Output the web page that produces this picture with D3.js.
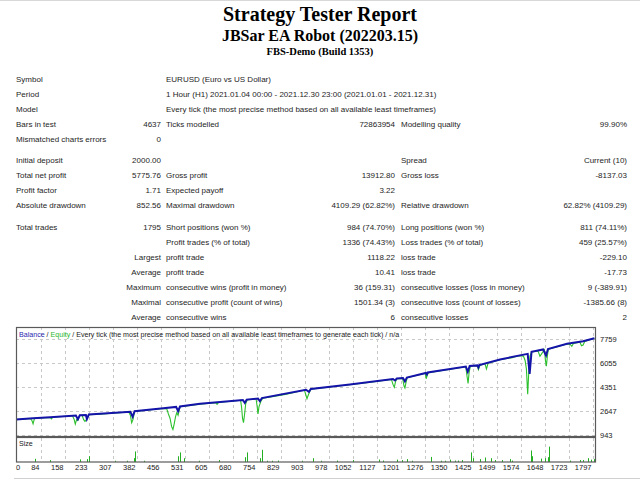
<!DOCTYPE html>
<html>
<head>
<meta charset="utf-8">
<script src="https://cdn.jsdelivr.net/npm/d3@7"></script>
<style>
  body { margin: 0; background: #fff; }
  svg { display: block; }
  .tbl { font-family: "Liberation Sans", Arial, sans-serif; font-size: 8px; fill: #1e1e1e; }
  .ttl { font-family: "Liberation Serif", "Times New Roman", serif; font-weight: bold; fill: #000; }
  .axl { font-family: "Liberation Sans", Arial, sans-serif; font-size: 7.5px; fill: #222; }
  .leg { font-family: "Liberation Sans", Arial, sans-serif; font-size: 7.1px; fill: #222; }
</style>
</head>
<body>
<div id="chart"></div>
<script>
// balance curve: [trade #, balance]
var balanceTrades = [0, 53, 106, 186, 192, 198, 217, 220, 226, 261, 355, 362, 368, 457, 497, 503, 509, 571,
  704, 710, 716, 751, 757, 763, 900, 909, 915, 1036, 1170, 1176, 1182, 1201, 1207, 1213, 1272, 1275, 1278,
  1396, 1402, 1408, 1432, 1435, 1438, 1502, 1588, 1594, 1600, 1636, 1645, 1651, 1710, 1760, 1795];
var balanceValues = [2000, 2100, 2170, 2290, 2020, 2310, 2330, 2040, 2360, 2410, 2555, 2200, 2600, 2810, 2900, 2600, 2930, 3120,
  3390, 3190, 3420, 3500, 3310, 3530, 4120, 3975, 4175, 4490, 4880, 4780, 4920, 4955, 4710, 4990, 5310, 5200, 5345,
  5770, 5395, 5810, 5850, 5700, 5880, 6270, 6670, 5250, 6820, 6980, 6550, 7015, 7390, 7570, 7776];

// equity curve
var equityTrades = [0, 45, 50, 53, 57, 60, 106, 110, 114, 175, 180, 184, 188, 192, 198, 205, 210, 214, 219, 226, 261,
  350, 355, 359, 363, 368, 457, 468, 473, 478, 483, 487, 491, 495, 499, 503, 509, 571, 620, 624, 628,
  697, 700, 703, 706, 709, 713, 718, 745, 748, 751, 754, 760, 766, 800, 840, 895, 899, 903, 908, 915,
  1036, 1100, 1165, 1170, 1174, 1178, 1182, 1200, 1204, 1207, 1211, 1214, 1270, 1273, 1277, 1280,
  1396, 1399, 1403, 1406, 1410, 1432, 1435, 1440, 1455, 1460, 1465, 1502, 1540, 1560, 1575, 1580, 1584, 1588, 1591, 1595,
  1600, 1620, 1626, 1632, 1640, 1643, 1646, 1649, 1652, 1710, 1720, 1725, 1730, 1750, 1755, 1760, 1765, 1795];
var equityValues = [2000, 2080, 1900, 1700, 2050, 2100, 2150, 2050, 2170, 2270, 2050, 1680, 2000, 1950, 2290, 2300, 2000, 1880, 2000, 2340, 2390,
  2540, 2300, 1780, 2000, 2580, 2790, 2760, 2400, 2100, 1500, 1300, 1700, 2200, 2500, 2300, 2910, 3100, 3200, 3080, 3210,
  3370, 2900, 2100, 1780, 2300, 3150, 3400, 3480, 3000, 2400, 2900, 3300, 3520, 3650, 3800, 4100, 3800, 3480, 3800, 4160,
  4470, 4650, 4860, 4500, 4300, 4700, 4900, 4930, 4400, 4250, 4700, 4970, 5290, 4900, 5200, 5330,
  5750, 5200, 4570, 5300, 5790, 5820, 5550, 5850, 5990, 5600, 6000, 6250, 6400, 6540, 6500, 6200, 5600, 3800, 5200, 6500,
  6800, 6880, 6500, 6700, 6960, 6200, 5800, 6500, 7000, 7370, 7340, 7200, 7400, 7500, 7250, 7300, 7550, 7776];

// position size bars (lots)
var sizeTrades = [58, 105, 199, 220, 226, 307, 344, 366, 370, 397, 503, 508, 522, 569, 629, 712, 716, 757, 762, 778, 793, 814,
  887, 921, 946, 995, 1047, 1127, 1140, 1183, 1197, 1212, 1228, 1288, 1319, 1331, 1347, 1362, 1372, 1385, 1412, 1419, 1439,
  1455, 1474, 1486, 1507, 1533, 1540, 1598, 1602, 1629, 1642, 1650, 1654, 1719, 1750, 1759, 1776, 1784, 1794];
var sizeValues = [0.33, 0.2, 0.27, 0.3, 0.6, 0.13, 0.13, 0.4, 1.1, 0.13, 0.6, 1.0, 0.4, 0.13, 0.2, 0.5, 1.0, 0.4, 1.27, 0.13, 0.13, 0.15,
  0.13, 0.4, 0.13, 0.15, 0.2, 0.25, 0.15, 0.25, 0.2, 0.3, 0.13, 0.53, 0.13, 0.13, 0.25, 0.15, 0.15, 0.2, 1.0, 0.4, 0.3,
  0.47, 0.4, 0.2, 0.2, 0.3, 0.15, 1.2, 0.6, 0.35, 0.4, 0.5, 1.6, 0.15, 0.2, 0.2, 0.4, 0.25, 0.3];

var xTickLabels = [0, 84, 158, 233, 307, 382, 456, 531, 605, 680, 754, 829, 903, 978, 1052, 1127, 1201, 1276, 1350, 1425, 1499, 1574, 1648, 1723, 1797];
var yTickValues = [943, 2647, 4351, 6055, 7759];

// report table text
var headerRows = [
  ["Symbol", "", "EURUSD (Euro vs US Dollar)", "", "", ""],
  ["Period", "", "1 Hour (H1) 2021.01.04 00:00 - 2021.12.30 23:00 (2021.01.01 - 2021.12.31)", "", "", ""],
  ["Model", "", "Every tick (the most precise method based on all available least timeframes)", "", "", ""],
  ["Bars in test", "4637", "Ticks modelled", "72863954", "Modelling quality", "99.90%"],
  ["Mismatched charts errors", "0", "", "", "", ""]
];
var statRows = [
  ["Initial deposit", "2000.00", "", "", "Spread", "Current (10)"],
  ["Total net profit", "5775.76", "Gross profit", "13912.80", "Gross loss", "-8137.03"],
  ["Profit factor", "1.71", "Expected payoff", "3.22", "", ""],
  ["Absolute drawdown", "852.56", "Maximal drawdown", "4109.29 (62.82%)", "Relative drawdown", "62.82% (4109.29)"]
];
var tradeRows = [
  ["Total trades", "1795", "Short positions (won %)", "984 (74.70%)", "Long positions (won %)", "811 (74.11%)"],
  ["", "", "Profit trades (% of total)", "1336 (74.43%)", "Loss trades (% of total)", "459 (25.57%)"],
  ["", "Largest", "profit trade", "1118.22", "loss trade", "-229.10"],
  ["", "Average", "profit trade", "10.41", "loss trade", "-17.73"],
  ["", "Maximum", "consecutive wins (profit in money)", "36 (159.31)", "consecutive losses (loss in money)", "9 (-389.91)"],
  ["", "Maximal", "consecutive profit (count of wins)", "1501.34 (3)", "consecutive loss (count of losses)", "-1385.66 (8)"],
  ["", "Average", "consecutive wins", "6", "consecutive losses", "2"]
];

var svg = d3.select("#chart").append("svg")
  .attr("width", 640)
  .attr("height", 480);

// frame lines of the page
svg.append("line").attr("x1", 0).attr("x2", 640).attr("y1", 0.5).attr("y2", 0.5).attr("stroke", "#d8d8d8");
svg.append("line").attr("x1", 14).attr("x2", 640).attr("y1", 478.5).attr("y2", 478.5).attr("stroke", "#d0d0d0");

// titles
svg.append("text").attr("class", "ttl").attr("x", 320).attr("y", 21).attr("text-anchor", "middle")
  .style("font-size", "20px").text("Strategy Tester Report");
svg.append("text").attr("class", "ttl").attr("x", 320).attr("y", 41).attr("text-anchor", "middle")
  .style("font-size", "16px").text("JBSar EA Robot (202203.15)");
svg.append("text").attr("class", "ttl").attr("x", 320).attr("y", 55).attr("text-anchor", "middle")
  .style("font-size", "10.5px").text("FBS-Demo (Build 1353)");

// table: columns = label, value, label, value, label, value
var colX = [16, 161, 166, 395, 401, 627];
var colAnchor = ["start", "end", "start", "end", "start", "end"];

function drawRows(rows, yStart) {
  rows.forEach((row, i) => {
    row.forEach((cell, j) => {
      if (!cell) return;
      svg.append("text")
        .attr("class", "tbl")
        .attr("x", colX[j])
        .attr("y", yStart + i * 15 + 3)
        .attr("text-anchor", colAnchor[j])
        .text(cell);
    });
  });
}
drawRows(headerRows, 78.5);
drawRows(statRows, 160);
drawRows(tradeRows, 226.7);

// chart
var left = 16, right = 596;
var mainTop = 327, mainBottom = 436;
var sizeTop = 438, sizeBottom = 462;

var x = d3.scaleLinear().domain([0, 1800]).range([left, right]);
var gridX = d3.scaleLinear().domain([0, 24]).range([17, 593]);
var y = d3.scaleLinear().domain([943, 7759]).range([434.5, 338.5]);
var ySize = d3.scaleLinear().domain([0, 2.5]).range([sizeBottom, sizeTop]);

// vertical grid
xTickLabels.forEach((v, i) => {
  if (i === 0) return;
  [[mainTop, mainBottom], [sizeTop, sizeBottom]].forEach(p => {
    svg.append("line")
      .attr("x1", gridX(i) + 0.5).attr("x2", gridX(i) + 0.5)
      .attr("y1", p[0]).attr("y2", p[1])
      .attr("stroke", "#c8c8c8").attr("stroke-dasharray", "3,3");
  });
});
// horizontal grid
yTickValues.forEach(v => {
  svg.append("line")
    .attr("x1", left).attr("x2", right)
    .attr("y1", Math.round(y(v)) + 0.5).attr("y2", Math.round(y(v)) + 0.5)
    .attr("stroke", "#c8c8c8").attr("stroke-dasharray", "3,3");
});

// clip to main panel
svg.append("clipPath").attr("id", "clipMain").append("rect")
  .attr("x", left).attr("y", mainTop).attr("width", right - left).attr("height", mainBottom - mainTop);

var balance = balanceTrades.map((t, i) => [t, balanceValues[i]]);
var equity = equityTrades.map((t, i) => [t, equityValues[i]]);
var line = d3.line().x(d => x(d[0])).y(d => y(d[1]));

var plot = svg.append("g").attr("clip-path", "url(#clipMain)");
plot.append("path").datum(equity)
  .attr("d", line).attr("fill", "none")
  .attr("stroke", "#2cc02c").attr("stroke-width", 1.1);
plot.append("path").datum(balance)
  .attr("d", line).attr("fill", "none")
  .attr("stroke", "#1414a8").attr("stroke-width", 2);

// size bars
svg.selectAll(".sz").data(sizeTrades).enter().append("line")
  .attr("class", "sz")
  .attr("x1", d => Math.round(x(d)) + 0.5).attr("x2", d => Math.round(x(d)) + 0.5)
  .attr("y1", sizeBottom)
  .attr("y2", (d, i) => ySize(sizeValues[i]))
  .attr("stroke", "#22b022").attr("stroke-width", 1);

// panel borders
svg.append("rect").attr("x", left + 0.5).attr("y", mainTop + 0.5)
  .attr("width", right - left - 1).attr("height", mainBottom - mainTop)
  .attr("fill", "none").attr("stroke", "#5a5a5a").attr("stroke-width", 1.2);
svg.append("rect").attr("x", left + 0.5).attr("y", sizeTop - 0.5)
  .attr("width", right - left - 1).attr("height", sizeBottom - sizeTop + 0.5)
  .attr("fill", "none").attr("stroke", "#5a5a5a").attr("stroke-width", 1.2);

// legend line
var leg = svg.append("text").attr("class", "leg").attr("x", 19).attr("y", 337);
leg.append("tspan").attr("fill", "#2a2ab0").text("Balance");
leg.append("tspan").text(" / ");
leg.append("tspan").attr("fill", "#2cb82c").text("Equity");
leg.append("tspan").text(" / Every tick (the most precise method based on all available least timeframes to generate each tick) / n/a");

svg.append("text").attr("class", "leg").attr("x", 19).attr("y", 446).text("Size");

// y labels on right
yTickValues.forEach(v => {
  svg.append("text").attr("class", "axl")
    .attr("x", 600).attr("y", y(v) + 3)
    .text(v);
});

// x labels
xTickLabels.forEach((v, i) => {
  svg.append("text").attr("class", "axl")
    .attr("x", i === 0 ? 16 : gridX(i) - 1.5)
    .attr("y", 470)
    .attr("text-anchor", i === 0 ? "start" : "end")
    .text(v);
});
</script>
</body>
</html>
